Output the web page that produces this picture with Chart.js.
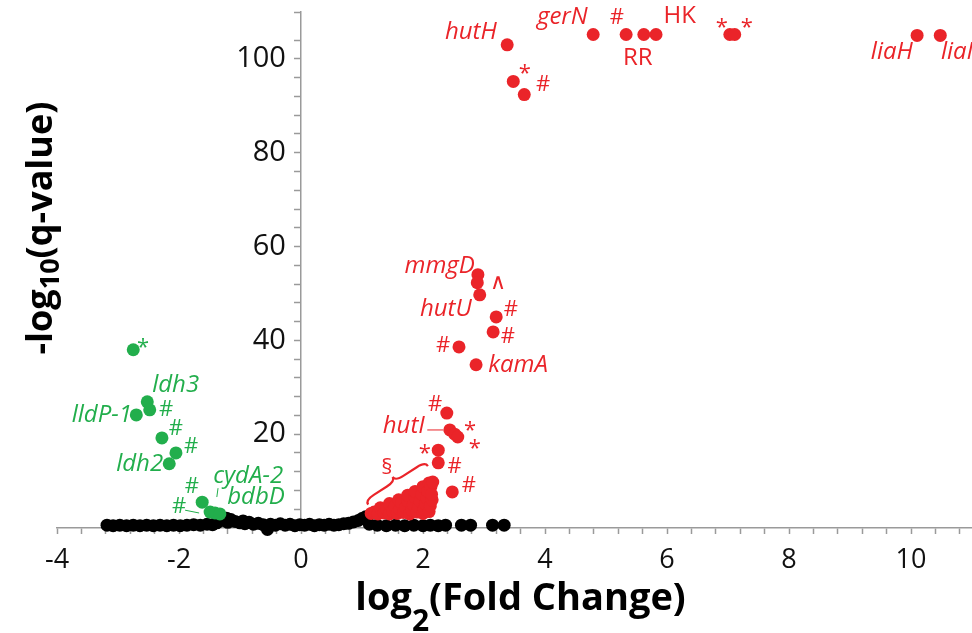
<!DOCTYPE html>
<html>
<head>
<meta charset="utf-8">
<script src="https://cdn.jsdelivr.net/npm/chart.js@4.4.1/dist/chart.umd.min.js"></script>
<style>
  html, body { margin: 0; padding: 0; background: #fff; overflow: hidden; }
</style>
</head>
<body>
<canvas id="volcano" width="972" height="633"></canvas>
<script>
// up-regulated genes (red), [log2 FC, -log10 q]
const upGenes = [
  [3.38, 103.0], [4.79, 105.2], [5.33, 105.2], [5.62, 105.2], [5.82, 105.2],
  [7.03, 105.2], [7.11, 105.2], [10.10, 105.0], [10.48, 105.0],
  [3.48, 95.2], [3.66, 92.4],
  [2.90, 54.0], [2.89, 52.3], [2.93, 49.7], [3.20, 45.0], [3.15, 41.8],
  [2.59, 38.6], [2.87, 34.8],
  [2.39, 24.5], [2.44, 20.9], [2.52, 20.0], [2.57, 19.4], [2.25, 16.6],
  [2.25, 13.9], [2.48, 7.7]
];
// the red bunch just above 1 < log2 FC < 2.2
const upBunch = [
  [1.15, 3.1], [1.20, 3.4], [1.26, 3.0], [1.30, 4.3], [1.36, 3.2], [1.40, 4.1],
  [1.45, 3.0], [1.45, 5.2], [1.50, 3.6], [1.54, 4.6], [1.58, 3.1], [1.60, 6.0],
  [1.62, 4.0], [1.65, 5.3], [1.68, 3.3], [1.72, 4.4], [1.75, 5.8], [1.75, 7.0],
  [1.78, 3.0], [1.82, 3.8], [1.84, 5.0], [1.87, 6.6], [1.87, 7.8], [1.90, 3.4],
  [1.93, 4.5], [1.95, 5.8], [1.98, 7.2], [2.00, 3.1], [2.00, 8.8], [2.02, 4.0],
  [2.04, 5.2], [2.06, 6.4], [2.08, 7.8], [2.10, 3.5], [2.10, 9.6], [2.12, 4.7],
  [2.13, 8.8], [2.15, 6.0], [2.14, 7.2], [2.16, 9.8]
];
// down-regulated genes (green)
const downGenes = [
  [-2.75, 38.0], [-2.52, 26.9], [-2.48, 25.2], [-2.70, 24.1], [-2.28, 19.2],
  [-2.05, 16.0], [-2.16, 13.7], [-1.62, 5.5], [-1.49, 3.4], [-1.41, 3.2], [-1.33, 3.0]
];
// not significant (black)
const nsGenes = [
  [-3.18, 0.6], [-3.08, 0.5], [-2.97, 0.6], [-2.86, 0.5], [-2.75, 0.6], [-2.64, 0.5],
  [-2.53, 0.6], [-2.42, 0.5], [-2.31, 0.6], [-2.20, 0.5], [-2.09, 0.6], [-1.98, 0.5],
  [-1.87, 0.6], [-1.76, 0.7], [-1.65, 0.6], [-1.54, 0.8], [-1.45, 0.7], [-1.38, 1.1],
  [-1.30, 1.6], [-1.22, 2.1], [-1.20, 1.2], [-1.15, 1.8], [-1.08, 1.4], [-1.00, 1.1],
  [-0.95, 1.5], [-0.92, 0.9], [-0.85, 1.2], [-0.78, 0.8], [-0.70, 1.0], [-0.62, 0.7],
  [-0.55, -0.3], [-0.50, 0.8], [-0.42, 0.6], [-0.34, 0.9], [-0.26, 0.6], [-0.18, 0.8],
  [-0.10, 0.5], [-0.02, 0.7], [0.06, 0.6], [0.14, 0.8], [0.22, 0.5], [0.30, 0.7],
  [0.38, 0.6], [0.46, 0.8], [0.54, 0.6], [0.62, 0.7], [0.70, 0.9], [0.78, 1.0],
  [0.86, 1.3], [0.94, 1.6], [1.00, 2.0], [1.06, 2.4], [1.12, 0.8], [1.25, 0.6],
  [1.40, 0.5], [1.55, 0.6], [1.70, 0.5], [1.85, 0.6], [2.00, 0.5], [2.12, 0.6],
  [2.25, 0.5], [2.37, 0.6], [2.63, 0.6], [2.78, 0.6], [3.14, 0.6], [3.33, 0.6]
];

// annotations: [text, x, y, align, colour, kind]  kind g = gene (italic), m = mark, t = tag
const notes = [
  ['hutH', 3.21, 105.6, 'right', 'r', 'g'],
  ['gerN', 4.70, 108.8, 'right', 'r', 'g'],
  ['#', 5.18, 108.8, 'center', 'r', 'm'],
  ['HK', 6.21, 109.2, 'center', 'r', 't'],
  ['RR', 5.52, 100.1, 'center', 'r', 't'],
  ['*', 6.90, 106.6, 'center', 'r', 'm'],
  ['*', 7.31, 106.6, 'center', 'r', 'm'],
  ['liaH', 10.03, 101.4, 'right', 'r', 'g'],
  ['liaI', 10.49, 101.4, 'left', 'r', 'g'],
  ['*', 3.67, 96.9, 'center', 'r', 'm'],
  ['#', 3.97, 94.5, 'center', 'r', 'm'],
  ['mmgD', 2.85, 55.9, 'right', 'r', 'g'],
  ['\u2227', 3.23, 52.3, 'center', 'r', 'm'],
  ['hutU', 2.80, 46.7, 'right', 'r', 'g'],
  ['#', 3.44, 46.5, 'center', 'r', 'm'],
  ['#', 3.39, 40.8, 'center', 'r', 'm'],
  ['#', 2.33, 38.8, 'center', 'r', 'm'],
  ['kamA', 3.07, 34.8, 'left', 'r', 'g'],
  ['#', 2.20, 26.2, 'center', 'r', 'm'],
  ['hutI', 2.03, 21.8, 'right', 'r', 'g'],
  ['*', 2.77, 20.8, 'center', 'r', 'm'],
  ['*', 2.85, 16.9, 'center', 'r', 'm'],
  ['*', 2.03, 15.9, 'center', 'r', 'm'],
  ['#', 2.52, 13.0, 'center', 'r', 'm'],
  ['#', 2.75, 9.0, 'center', 'r', 'm'],
  ['\u00a7', 1.41, 12.8, 'center', 'r', 'm'],
  ['*', -2.59, 38.5, 'center', 'g', 'm'],
  ['ldh3', -2.44, 30.5, 'left', 'g', 'g'],
  ['lldP-1', -2.77, 24.1, 'right', 'g', 'g'],
  ['#', -2.21, 25.2, 'center', 'g', 'm'],
  ['#', -2.05, 21.1, 'center', 'g', 'm'],
  ['#', -1.80, 17.3, 'center', 'g', 'm'],
  ['ldh2', -2.26, 13.7, 'right', 'g', 'g'],
  ['#', -1.79, 8.7, 'center', 'g', 'm'],
  ['#', -2.00, 4.5, 'center', 'g', 'm'],
  ['cydA-2', -1.44, 11.1, 'left', 'g', 'g'],
  ['bdbD', -1.21, 6.6, 'left', 'g', 'g']
];
// leader lines [x1, y1, x2, y2, colour]
const leaders = [
  [2.07, 20.9, 2.33, 20.9, 'r'],
  [-1.90, 3.8, -1.67, 3.2, 'g'],
  [-1.36, 8.5, -1.38, 6.6, 'g']
];
// brace over the bunch [x1, y1, x2, y2]
const brace = [1.10, 5.0, 2.08, 13.2];

const RED = '#ea2429';
const GREEN = '#22ae4c';
const colourOf = c => (c === 'r' ? RED : GREEN);
const toPoints = list => list.map(p => ({ x: p[0], y: p[1] }));

function isStep(v, step) {
  return Math.abs(v / step - Math.round(v / step)) < 1e-6;
}

const notePlugin = {
  id: 'notes',
  afterDatasetsDraw(chart) {
    const { ctx } = chart;
    const sx = chart.scales.x, sy = chart.scales.y;
    ctx.save();
    notes.forEach(n => {
      const [text, x, y, align, c, kind] = n;
      ctx.fillStyle = colourOf(c);
      ctx.textAlign = align;
      ctx.textBaseline = 'middle';
      if (kind === 'g') ctx.font = 'italic 24px "Open Sans"';
      else if (kind === 't') ctx.font = '24px "Open Sans"';
      else ctx.font = '22px "Open Sans", "DejaVu Sans"';
      ctx.fillText(text, sx.getPixelForValue(x), sy.getPixelForValue(y));
    });
    ctx.lineWidth = 1;
    leaders.forEach(l => {
      ctx.strokeStyle = colourOf(l[4]);
      ctx.beginPath();
      ctx.moveTo(sx.getPixelForValue(l[0]), sy.getPixelForValue(l[1]));
      ctx.lineTo(sx.getPixelForValue(l[2]), sy.getPixelForValue(l[3]));
      ctx.stroke();
    });
    // curly brace
    const x1 = sx.getPixelForValue(brace[0]), y1 = sy.getPixelForValue(brace[1]);
    const x2 = sx.getPixelForValue(brace[2]), y2 = sy.getPixelForValue(brace[3]);
    const len = Math.hypot(x2 - x1, y2 - y1), d = 10, h = len / 2;
    ctx.translate((x1 + x2) / 2, (y1 + y2) / 2);
    ctx.rotate(Math.atan2(y2 - y1, x2 - x1));
    ctx.strokeStyle = RED;
    ctx.lineWidth = 2.2;
    ctx.beginPath();
    ctx.moveTo(-h, 0);
    ctx.quadraticCurveTo(-h, -d / 2, -h + d, -d / 2);
    ctx.lineTo(-d, -d / 2);
    ctx.quadraticCurveTo(0, -d / 2, 0, -d);
    ctx.quadraticCurveTo(0, -d / 2, d, -d / 2);
    ctx.lineTo(h - d, -d / 2);
    ctx.quadraticCurveTo(h, -d / 2, h, 0);
    ctx.stroke();
    ctx.restore();
  }
};

// axis titles with real subscripts
function drawSubTitle(ctx, parts, size, subSize, subShift) {
  let total = 0;
  parts.forEach(p => {
    ctx.font = 'bold ' + (p.sub ? subSize : size) + 'px "Open Sans"';
    p.w = ctx.measureText(p.t).width;
    total += p.w;
  });
  let x = -total / 2;
  parts.forEach(p => {
    ctx.font = 'bold ' + (p.sub ? subSize : size) + 'px "Open Sans"';
    ctx.fillText(p.t, x, p.sub ? subShift : 0);
    x += p.w;
  });
}

const titlePlugin = {
  id: 'titles',
  afterDraw(chart) {
    const { ctx, chartArea } = chart;
    ctx.save();
    ctx.fillStyle = '#000';
    ctx.textAlign = 'left';
    ctx.textBaseline = 'alphabetic';
    ctx.save();
    ctx.translate((chartArea.left + chartArea.right) / 2 + 6, chartArea.bottom + 82);
    drawSubTitle(ctx, [{ t: 'log' }, { t: '2', sub: true }, { t: '(Fold Change)' }], 38, 30, 21);
    ctx.restore();
    ctx.translate(chartArea.left - 5, chartArea.top + 216);
    ctx.rotate(-Math.PI / 2);
    drawSubTitle(ctx, [{ t: '-log' }, { t: '10', sub: true }, { t: '(q-value)' }], 36, 27, 7);
    ctx.restore();
  }
};

const axisGrey = '#9a9a9a';

new Chart(document.getElementById('volcano'), {
  type: 'scatter',
  data: {
    datasets: [
      { label: 'up', data: toPoints(upGenes.concat(upBunch)), backgroundColor: RED, clip: false },
      { label: 'down', data: toPoints(downGenes), backgroundColor: GREEN, clip: false },
      { label: 'ns', data: toPoints(nsGenes), backgroundColor: '#000', clip: false }
    ]
  },
  options: {
    responsive: false,
    animation: false,
    layout: { autoPadding: false, padding: { left: 57, top: 12, right: 0, bottom: 0 } },
    elements: { point: { radius: 6.5, hoverRadius: 6.5, borderWidth: 0 } },
    plugins: { legend: { display: false }, tooltip: { enabled: false } },
    scales: {
      x: {
        type: 'linear',
        position: 'bottom',
        min: -4,
        max: 11,
        afterFit: s => { s.height = 105; s.paddingLeft = 0; s.paddingRight = 0; },
        ticks: {
          stepSize: 0.4,
          autoSkip: false,
          maxRotation: 0,
          includeBounds: false,
          padding: 10,
          color: '#111',
          font: { family: 'Open Sans', size: 27 },
          callback: v => (isStep(v, 2) ? String(Math.round(v)) : '')
        },
        grid: { drawOnChartArea: false, tickLength: 6, tickColor: axisGrey, tickWidth: 1.5 },
        border: { color: axisGrey, width: 1.5 }
      },
      y: {
        type: 'linear',
        position: { x: 0 },
        min: 0,
        max: 110,
        afterFit: s => { s.paddingTop = 0; s.paddingBottom = 0; },
        ticks: {
          stepSize: 4,
          autoSkip: false,
          color: '#111',
          font: { family: 'Open Sans', size: 29 },
          // labels of an axis placed at x = 0 ignore ticks.padding, so keep a gap with spaces
          callback: v => (v !== 0 && isStep(v, 20) ? String(Math.round(v)) + '  ' : '')
        },
        grid: { drawOnChartArea: false, tickLength: 6, tickColor: axisGrey, tickWidth: 1.5 },
        border: { color: axisGrey, width: 1.5 }
      }
    }
  },
  plugins: [notePlugin, titlePlugin]
});
</script>
</body>
</html>
